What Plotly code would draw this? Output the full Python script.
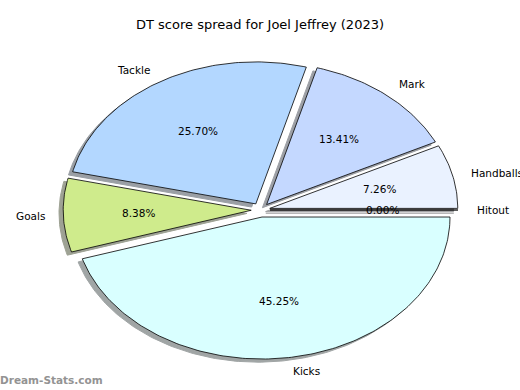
import numpy as np
import plotly.graph_objects as go

# ---- data ----
labels = ["Hitout", "Handballs", "Mark", "Tackle", "Goals", "Kicks"]
values = [0.00, 7.26, 13.41, 25.70, 8.38, 45.25]
colors = ["#f0f0ff", "#eaf2ff", "#c4d8ff", "#b3d7ff", "#cfeb8c", "#d9ffff"]
explode = [0.05, 0.05, 0.05, 0.05, 0.05, 0.05]
title = "DT score spread for Joel Jeffrey (2023)"
watermark = "Dream-Stats.com"

# ---- layout geometry (ellipse: 1 unit = 188 px in x, 142 px in y) ----
W, H = 520, 390
cx_px, cy_px = 260.6, 210.0
rx_px, ry_px = 188.0, 142.0
xr = [-cx_px / rx_px, (W - cx_px) / rx_px]
yr = [-(H - cy_px) / ry_px, cy_px / ry_px]

label_dist = 1.1
pct_dist = 0.6
shadow_off = -0.02 * 80 / 72

total = sum(values)
fracs = [v / total for v in values]

fig = go.Figure()

wedges = []
start = 0.0
for lab, f, col, ex in zip(labels, fracs, colors, explode):
    t1 = start * 360
    t2 = (start + f) * 360
    start += f
    tm = np.deg2rad((t1 + t2) / 2)
    ox, oy = ex * np.cos(tm), ex * np.sin(tm)
    n = max(2, int(abs(t2 - t1) / 1.0) + 2)
    th = np.deg2rad(np.linspace(t1, t2, n))
    xs = np.concatenate([[ox], ox + np.cos(th), [ox]])
    ys = np.concatenate([[oy], oy + np.sin(th), [oy]])
    wedges.append((lab, f, col, ox, oy, tm, xs, ys))

def shade(hexc):
    h = hexc.lstrip("#")
    r, g, b = [int(h[i:i + 2], 16) / 255 for i in (0, 2, 4)]
    r, g, b = [(0.3 * c) * 0.5 + 0.5 for c in (r, g, b)]
    return "rgb(%d,%d,%d)" % (r * 255, g * 255, b * 255)

for lab, f, col, ox, oy, tm, xs, ys in wedges:
    sc = shade(col)
    fig.add_trace(go.Scatter(x=xs + shadow_off, y=ys + shadow_off, mode="lines",
                             fill="toself", fillcolor=sc,
                             line=dict(color=sc, width=1.0 if f > 0 else 0.8),
                             hoverinfo="skip", showlegend=False))
for lab, f, col, ox, oy, tm, xs, ys in wedges:
    fig.add_trace(go.Scatter(x=xs, y=ys, mode="lines", fill="toself",
                             fillcolor=col, line=dict(color="black", width=0.8),
                             name=lab, showlegend=False))

txt_font = dict(family="DejaVu Sans", size=10.5, color="black")
for lab, f, col, ox, oy, tm, xs, ys in wedges:
    xt = ox + label_dist * np.cos(tm)
    yt = oy + label_dist * np.sin(tm)
    fig.add_annotation(x=xt, y=yt, text=lab, showarrow=False,
                       xanchor="left" if xt > 0 else "right", yanchor="middle",
                       borderpad=0, borderwidth=0, font=txt_font)
    xp = ox + pct_dist * np.cos(tm)
    yp = oy + pct_dist * np.sin(tm)
    fig.add_annotation(x=xp, y=yp, text="%.2f%%" % (f * 100), showarrow=False,
                       xanchor="center", yanchor="middle",
                       borderpad=0, borderwidth=0, font=txt_font)

fig.add_annotation(xref="paper", yref="paper", x=0.5, y=1 - 25 / H, text=title,
                   showarrow=False, xanchor="center", yanchor="middle",
                   font=dict(family="DejaVu Sans", size=13, color="black"))
fig.add_annotation(xref="paper", yref="paper", x=0, y=1 - 380 / H,
                   text="<b>" + watermark + "</b>", showarrow=False,
                   xanchor="left", yanchor="middle", borderpad=0, borderwidth=0,
                   font=dict(family="DejaVu Sans", size=10.5, color="#939393"))

fig.update_layout(width=W, height=H, margin=dict(l=0, r=0, t=0, b=0),
                  paper_bgcolor="white", plot_bgcolor="white",
                  xaxis=dict(range=xr, visible=False, fixedrange=True),
                  yaxis=dict(range=yr, visible=False, fixedrange=True),
                  showlegend=False)
fig.write_html("out.html", config={"displayModeBar": False},
               post_script="document.body.style.margin='0';document.body.style.overflow='hidden';")
